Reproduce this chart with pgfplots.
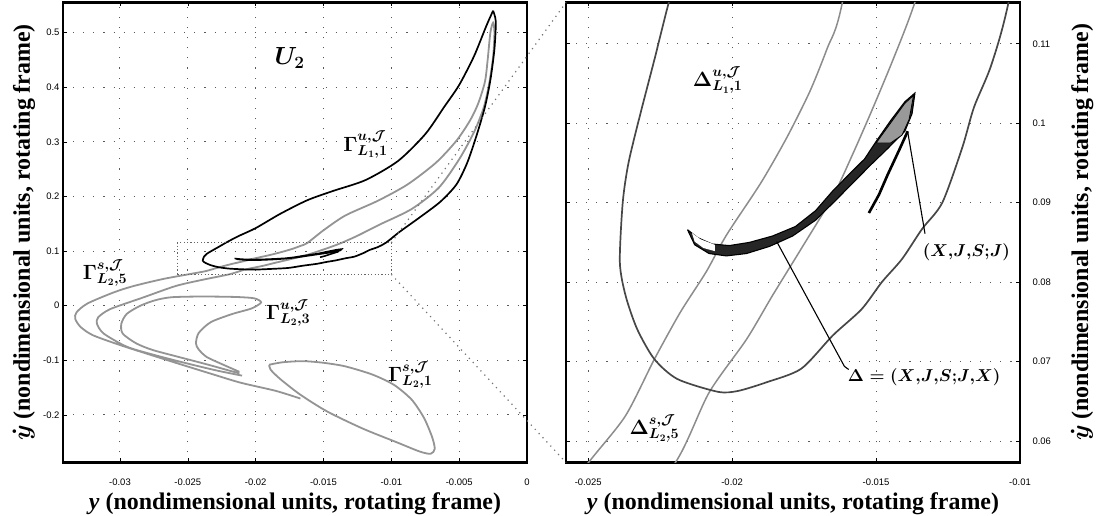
\documentclass[border=0pt]{standalone}
\usepackage{fontspec}
\setmainfont{Liberation Serif}
\setsansfont{Liberation Sans}
\usepackage{pgfplots}
\pgfplotsset{compat=1.18}
\usepackage{pgfplotstable}

% Unstable manifold tube cut of L1 (first intersection with U2)
\pgfplotstableread[row sep=\\]{
x y\\
-0.0025 0.540\\ -0.0030 0.512\\ -0.0039 0.457\\ -0.0050 0.404\\ -0.0061 0.364\\
-0.0075 0.314\\ -0.0095 0.265\\ -0.0119 0.230\\ -0.0143 0.210\\ -0.0162 0.193\\
-0.0182 0.168\\ -0.0200 0.142\\ -0.0213 0.127\\ -0.0222 0.1152\\ -0.0227 0.108\\
-0.0232 0.101\\ -0.0236 0.095\\ -0.0238 0.090\\ -0.0239 0.0825\\ -0.0237 0.0783\\
-0.0233 0.0741\\ -0.0227 0.0703\\ -0.0219 0.0678\\ -0.0205 0.0662\\ -0.0198 0.0663\\
-0.0188 0.0674\\ -0.0176 0.0691\\ -0.0165 0.0733\\ -0.0155 0.0766\\ -0.0148 0.0800\\
-0.0141 0.0829\\ -0.0134 0.0867\\ -0.0127 0.0900\\ -0.0120 0.0970\\ -0.0116 0.1020\\
-0.0110 0.1073\\ -0.0104 0.1152\\ -0.0094 0.135\\ -0.0080 0.160\\ -0.0064 0.190\\
-0.0052 0.222\\ -0.0044 0.262\\ -0.0037 0.313\\ -0.0031 0.364\\ -0.0027 0.413\\
-0.0024 0.470\\ -0.0023 0.520\\ -0.0025 0.540\\
}\tblDark

% Stable manifold tube cut of L2 (fifth intersection)
\pgfplotstableread[row sep=\\]{
x y\\
-0.0210 -0.128\\ -0.0228 -0.119\\ -0.0250 -0.106\\ -0.0275 -0.090\\ -0.0295 -0.075\\
-0.0312 -0.051\\ -0.0317 -0.033\\ -0.0316 -0.021\\ -0.0307 -0.006\\ -0.0283 0.015\\
-0.0259 0.036\\ -0.0240 0.047\\ -0.0219 0.0577\\ -0.0208 0.0661\\ -0.0195 0.0728\\
-0.0186 0.0783\\ -0.0176 0.0842\\ -0.0165 0.0908\\ -0.0158 0.0962\\ -0.0151 0.1020\\
-0.0144 0.1081\\ -0.0137 0.1147\\ -0.0125 0.128\\ -0.0109 0.148\\ -0.0085 0.177\\
-0.0065 0.216\\ -0.0050 0.268\\ -0.0039 0.318\\ -0.0032 0.362\\ -0.0028 0.405\\
-0.0025 0.455\\ -0.0024 0.500\\ -0.0025 0.518\\ -0.0027 0.500\\ -0.0029 0.450\\
-0.0031 0.410\\ -0.0036 0.370\\ -0.0042 0.339\\ -0.0052 0.302\\ -0.0067 0.262\\
-0.0088 0.222\\ -0.0110 0.192\\ -0.0134 0.165\\ -0.0150 0.138\\ -0.0162 0.1147\\
-0.0167 0.1094\\ -0.0173 0.1040\\ -0.0181 0.0982\\ -0.0190 0.0925\\ -0.0202 0.0859\\
-0.0209 0.0813\\ -0.0218 0.0762\\ -0.0227 0.0703\\ -0.0237 0.0632\\ -0.0249 0.0577\\
-0.0268 0.049\\ -0.0290 0.036\\ -0.0305 0.024\\ -0.0324 0.004\\ -0.0332 -0.012\\
-0.0333 -0.024\\ -0.0329 -0.039\\ -0.0320 -0.054\\ -0.0300 -0.072\\ -0.0280 -0.088\\
-0.0257 -0.106\\ -0.0231 -0.126\\ -0.0211 -0.141\\ -0.0185 -0.156\\ -0.0167 -0.170\\
}\tblSfive

% Unstable manifold tube cut of L2 (third intersection)
\pgfplotstableread[row sep=\\]{
x y\\
-0.0212 -0.124\\ -0.0235 -0.108\\ -0.0258 -0.093\\ -0.0276 -0.081\\ -0.0288 -0.069\\
-0.0298 -0.051\\ -0.0299 -0.033\\ -0.0295 -0.015\\ -0.0285 0.000\\ -0.0274 0.010\\
-0.0262 0.0155\\ -0.0240 0.0168\\ -0.0215 0.0160\\ -0.0201 0.0135\\ -0.0196 0.0060\\
-0.0203 -0.0050\\ -0.0217 -0.0150\\ -0.0233 -0.0300\\ -0.0242 -0.0500\\ -0.0244 -0.0690\\
-0.0242 -0.0800\\ -0.0236 -0.0940\\ -0.0223 -0.1090\\ -0.0212 -0.1210\\
}\tblUthree

% Stable manifold tube cut of L2 (first intersection)
\pgfplotstableread[row sep=\\]{
x y\\
-0.0190 -0.108\\ -0.0180 -0.1035\\ -0.0165 -0.1015\\ -0.0150 -0.1045\\ -0.0134 -0.111\\
-0.0114 -0.126\\ -0.0098 -0.145\\ -0.0085 -0.172\\ -0.0076 -0.205\\ -0.0070 -0.240\\
-0.0068 -0.262\\ -0.0071 -0.271\\ -0.0079 -0.267\\ -0.0096 -0.250\\ -0.0121 -0.225\\
-0.0147 -0.194\\ -0.0167 -0.163\\ -0.0182 -0.134\\ -0.0189 -0.117\\ -0.0190 -0.108\\
}\tblSone

% Itinerary region Delta = (X,J,S;J,X)
\pgfplotstableread[row sep=\\]{
x y\\
-0.02155 0.0866\\ -0.0212 0.0856\\ -0.0207 0.0848\\ -0.0201 0.0846\\ -0.0194 0.0850\\
-0.0186 0.0858\\ -0.0178 0.0870\\ -0.0171 0.0890\\ -0.0165 0.0915\\ -0.0159 0.0937\\
-0.0154 0.0955\\ -0.0150 0.0977\\ -0.0145 0.1003\\ -0.0140 0.1027\\ -0.01365 0.1038\\
-0.01375 0.1012\\ -0.0140 0.0990\\ -0.0146 0.0968\\ -0.0152 0.0947\\ -0.0158 0.0925\\
-0.0164 0.0903\\ -0.0171 0.0878\\ -0.0179 0.0858\\ -0.0187 0.0845\\ -0.0195 0.0836\\
-0.0202 0.0833\\ -0.0208 0.0836\\ -0.0213 0.0847\\ -0.02155 0.0866\\
}\tblCres

\pgfplotstableread[row sep=\\]{
x y\\
-0.0214 0.0862\\ -0.0211 0.0854\\ -0.0206 0.0847\\ -0.0206 0.0839\\ -0.0210 0.0843\\
-0.0213 0.0851\\ -0.0214 0.0862\\
}\tblHollow

\pgfplotstableread[row sep=\\]{
x y\\
-0.0150 0.0975\\ -0.0140 0.1025\\ -0.0137 0.1035\\ -0.01385 0.1005\\ -0.0141 0.0985\\
-0.0145 0.0975\\ -0.0150 0.0975\\
}\tblTip

% Region (X,J,S;J)
\pgfplotstableread[row sep=\\]{
x y\\
-0.0139 0.0990\\ -0.0142 0.0966\\ -0.0146 0.0935\\ -0.0149 0.0910\\ -0.01525 0.0887\\
}\tblHook

\pgfplotsset{
  panel/.style={
    scale only axis,
    scaled ticks=false,
    axis line style={line width=2.2bp},
    tick align=inside,
    major tick length=4bp,
    tick style={black, line width=0.6bp},
    grid=major,
    major grid style={black!65, line width=1bp, dash pattern=on 1.1bp off 9bp},
    ticklabel style={font=\sffamily\fontsize{9.5}{10}\selectfont},
    xticklabel style={yshift=-13bp},
    label style={font=\bfseries\fontsize{24}{26}\selectfont},
    clip mode=individual,
  },
  darkc/.style={black, line width=1.7bp, smooth, tension=0.45},
  greyc/.style={black!42, line width=1.8bp, smooth, tension=0.45},
}
\tikzset{
  lab/.style={font=\fontsize{20}{20}\selectfont\boldmath},
  labs/.style={font=\fontsize{18.5}{20}\selectfont\boldmath},
}

\begin{document}
\begin{tikzpicture}
\useasboundingbox (0bp,0bp) rectangle (1096bp,516bp);

\begin{axis}[panel, name=L,
  at={(63bp,53.5bp)}, anchor=south west, width=464bp, height=460bp,
  xmin=-0.0342, xmax=0, ymin=-0.287, ymax=0.555,
  xtick={-0.03,-0.025,-0.02,-0.015,-0.01,-0.005,0},
  xticklabels={-0.03,-0.025,-0.02,-0.015,-0.01,-0.005,0},
  ytick={-0.2,-0.1,0,0.1,0.2,0.3,0.4,0.5},
  yticklabels={-0.2,-0.1,0,0.1,0.2,0.3,0.4,0.5},
  xlabel={\textit{y} (nondimensional units, rotating frame)},
  ylabel={{\boldmath$\dot{y}$} (nondimensional units, rotating frame)},
  xlabel style={at={(axis description cs:0.5,-0.09)}, anchor=center},
  ylabel style={at={(axis description cs:-0.084,0.5)}, anchor=center},
]
\addplot[greyc] table {\tblSone};
\addplot[greyc] table {\tblUthree};
\addplot[greyc] table {\tblSfive};
\addplot[darkc] table {\tblDark};
\addplot[fill=black, draw=black, line width=1.4bp] table {\tblCres};
\addplot[black, line width=1.6bp] table {\tblHook};
\addplot[black!60, line width=1.3bp, dash pattern=on 1.2bp off 2.2bp]
  coordinates {(-0.02577,0.0573) (-0.01,0.0573) (-0.01,0.1152) (-0.02577,0.1152) (-0.02577,0.0573)};
\coordinate (bTR) at (axis cs:-0.01,0.1152);
\coordinate (bBR) at (axis cs:-0.01,0.0573);
\node[lab, font=\fontsize{23}{23}\selectfont\boldmath] at (axis cs:-0.0175,0.454) {$U_2$};
\node[lab] at (axis cs:-0.0119,0.295) {$\Gamma^{u,\mathcal{J}}_{L_1,1}$};
\node[lab] at (axis cs:-0.0311,0.060) {$\Gamma^{s,\mathcal{J}}_{L_2,5}$};
\node[lab] at (axis cs:-0.0176,-0.0132) {$\Gamma^{u,\mathcal{J}}_{L_2,3}$};
\node[lab] at (axis cs:-0.0086,-0.127) {$\Gamma^{s,\mathcal{J}}_{L_2,1}$};
\end{axis}

\begin{axis}[panel, name=R,
  at={(566bp,53.5bp)}, anchor=south west, width=454bp, height=460bp,
  xmin=-0.02577, xmax=-0.01, ymin=0.0573, ymax=0.1152,
  xtick={-0.025,-0.02,-0.015,-0.01},
  xticklabels={-0.025,-0.02,-0.015,-0.01},
  ytick={0.06,0.07,0.08,0.09,0.1,0.11},
  yticklabels={0.06,0.07,0.08,0.09,0.1,0.11},
  yticklabel pos=right,
  yticklabel style={xshift=9bp},
  xlabel={\textit{y} (nondimensional units, rotating frame)},
  ylabel={{\boldmath$\dot{y}$} (nondimensional units, rotating frame)},
  xlabel style={at={(axis description cs:0.5,-0.09)}, anchor=center},
  ylabel style={at={(axis description cs:1.137,0.5)}, anchor=center},
]
\addplot[black!45, line width=1.5bp, smooth, tension=0.45] table {\tblSfive};
\addplot[black!72, line width=1.7bp, smooth, tension=0.45] table {\tblDark};
\addplot[fill=black!85, draw=black, line width=1.1bp] table {\tblCres};
\addplot[fill=white, draw=none] table {\tblHollow};
\addplot[fill=black!40, draw=black, line width=0.8bp] table {\tblTip};
\addplot[black, line width=2.6bp] table {\tblHook};
\addplot[black, line width=1.1bp] coordinates {(-0.01845,0.0851) (-0.01610,0.0694) (-0.01595,0.0690)};
\addplot[black, line width=1.1bp] coordinates {(-0.0139,0.0989) (-0.0133,0.0861)};
\coordinate (rTL) at (rel axis cs:0,1);
\coordinate (rBL) at (rel axis cs:0,0);
\node[lab] at (axis cs:-0.0205,0.1054) {$\Delta^{u,\mathcal{J}}_{L_1,1}$};
\node[lab] at (axis cs:-0.0227,0.0616) {$\Delta^{s,\mathcal{J}}_{L_2,5}$};
\node[labs, anchor=west] at (axis cs:-0.0161,0.0680) {$\Delta=(X{,}J{,}S{;}J{,}X)$};
\node[labs, anchor=west] at (axis cs:-0.0135,0.0838) {$(X{,}J{,}S{;}J)$};
\end{axis}

% zoom connectors
\draw[black!55, line width=1.2bp, dash pattern=on 1.2bp off 4.5bp] (bTR) -- (rTL);
\draw[black!55, line width=1.2bp, dash pattern=on 1.2bp off 4.5bp] (bBR) -- (rBL);
\end{tikzpicture}
\end{document}
